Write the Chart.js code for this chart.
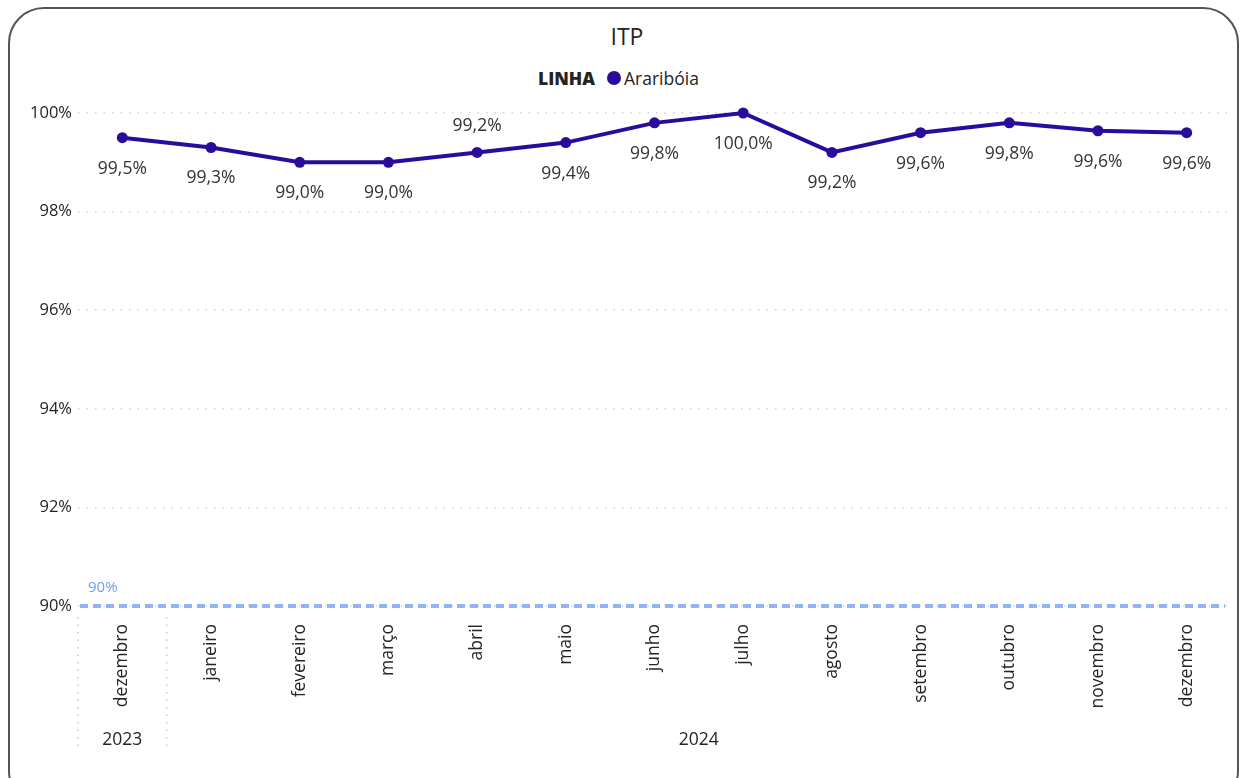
<!DOCTYPE html>
<html lang="pt">
<head>
    <meta charset="UTF-8" />
    <title>ITP</title>
    <script src="https://cdn.jsdelivr.net/npm/chart.js"></script>
    <style>
        body {
            margin: 0;
            width: 1240px;
            height: 778px;
            overflow: hidden;
            background: #fff;
            font-family: 'Segoe UI', 'Open Sans', sans-serif;
            color: #252423;
            position: relative;
        }

        .frame {
            position: absolute;
            left: 8px;
            top: 7px;
            width: 1231px;
            height: 800px;
            border: 2px solid #555;
            border-radius: 36px;
            box-sizing: border-box;
        }

        .titulo {
            position: absolute;
            top: 20px;
            left: 0;
            width: 1254px;
            text-align: center;
            font-size: 23px;
        }

        .legenda {
            position: absolute;
            top: 66px;
            left: 538px;
            font-size: 17.5px;
            display: flex;
            align-items: center;
        }

            .legenda b {
                margin-right: 12px;
                font-weight: 800;
            }

            .legenda i {
                display: inline-block;
                width: 14px;
                height: 14px;
                border-radius: 50%;
                background: #2a0c9c;
                margin-right: 3px;
            }

        canvas {
            position: absolute;
            left: 0;
            top: 0;
        }
    </style>
</head>
<body>
    <div class="frame"></div>
    <div class="titulo">ITP</div>
    <div class="legenda"><b>LINHA</b><i></i><span>Araribóia</span></div>
    <canvas id="grafico" width="1240" height="778"></canvas>

    <script>
        const meses = ['dezembro', 'janeiro', 'fevereiro', 'março', 'abril', 'maio', 'junho',
            'julho', 'agosto', 'setembro', 'outubro', 'novembro', 'dezembro'];
        const anos = ['2023', '2024', '2024', '2024', '2024', '2024', '2024',
            '2024', '2024', '2024', '2024', '2024', '2024'];
        const araribe = [99.5, 99.3, 99.0, 99.0, 99.2, 99.4, 99.8, 100.0, 99.2, 99.6, 99.8, 99.64, 99.6];
        const meta = 90;
        const yTicks = [90, 92, 94, 96, 98, 100];

        const corLinha = '#2a0c9c';
        const fonte = "'Segoe UI', 'Open Sans', sans-serif";

        // rótulos de dados (abril fica acima da linha)
        const rotulos = {
            id: 'rotulos',
            afterDatasetsDraw(chart) {
                const ctx = chart.ctx;
                const meta0 = chart.getDatasetMeta(0);
                ctx.save();
                ctx.font = '17.5px ' + fonte;
                ctx.fillStyle = '#333';
                ctx.textAlign = 'center';
                ctx.textBaseline = 'middle';
                meta0.data.forEach((pt, i) => {
                    const txt = araribe[i].toFixed(1).replace('.', ',') + '%';
                    const dy = i === 4 ? -26 : 31;
                    ctx.fillText(txt, pt.x, pt.y + dy);
                });
                ctx.restore();
            }
        };

        // linha de meta 90%
        const linhaMeta = {
            id: 'linhaMeta',
            afterDatasetsDraw(chart) {
                const ctx = chart.ctx;
                const y = chart.scales.y.getPixelForValue(meta);
                const a = chart.chartArea;
                ctx.save();
                ctx.strokeStyle = '#8fb5f7';
                ctx.lineWidth = 4;
                ctx.setLineDash([8, 5]);
                ctx.beginPath();
                ctx.moveTo(a.left + 2, y);
                ctx.lineTo(a.right - 6, y);
                ctx.stroke();
                ctx.fillStyle = '#6f9ef2';
                ctx.font = '15px ' + fonte;
                ctx.textBaseline = 'middle';
                ctx.fillText(meta + '%', a.left + 10, y - 18);
                ctx.restore();
            }
        };

        // eixo de anos
        const eixoAnos = {
            id: 'eixoAnos',
            afterDraw(chart) {
                const ctx = chart.ctx;
                const x = chart.scales.x;
                const a = chart.chartArea;
                const grupos = [];
                anos.forEach((ano, i) => {
                    const g = grupos[grupos.length - 1];
                    if (g && g.ano === ano) g.fim = i;
                    else grupos.push({ ano: ano, ini: i, fim: i });
                });
                ctx.save();
                ctx.strokeStyle = '#c8c8c8';
                ctx.lineWidth = 1.5;
                ctx.setLineDash([1.5, 6]);
                ctx.font = '17.5px ' + fonte;
                ctx.fillStyle = '#252423';
                ctx.textAlign = 'center';
                ctx.textBaseline = 'middle';
                grupos.forEach((g, k) => {
                    const esq = k === 0 ? a.left : (x.getPixelForValue(g.ini - 1) + x.getPixelForValue(g.ini)) / 2;
                    ctx.beginPath();
                    ctx.moveTo(esq, a.bottom + 11);
                    ctx.lineTo(esq, a.bottom + 146);
                    ctx.stroke();
                    const cx = (x.getPixelForValue(g.ini) + x.getPixelForValue(g.fim)) / 2;
                    ctx.fillText(g.ano, cx, a.bottom + 134);
                });
                ctx.restore();
            }
        };

        new Chart(document.getElementById('grafico'), {
            type: 'line',
            data: {
                labels: meses,
                datasets: [{
                    label: 'Araribóia',
                    data: araribe,
                    borderColor: corLinha,
                    backgroundColor: corLinha,
                    borderWidth: 4,
                    pointRadius: 5.5,
                    pointBorderWidth: 0,
                    pointHoverRadius: 5.5,
                    tension: 0,
                    clip: false
                }]
            },
            options: {
                responsive: false,
                animation: false,
                layout: { padding: { left: 8, top: 113, right: 9, bottom: 0 } },
                plugins: {
                    legend: { display: false },
                    title: { display: false },
                    tooltip: { enabled: false }
                },
                scales: {
                    x: {
                        offset: true,
                        grid: { display: false, offset: true },
                        border: { display: false },
                        ticks: {
                            autoSkip: false,
                            minRotation: 90,
                            maxRotation: 90,
                            padding: 10,
                            color: '#252423',
                            font: { family: fonte, size: 17.5 }
                        },
                        afterFit(s) { s.height = 172; }
                    },
                    y: {
                        min: 90,
                        max: 100,
                        afterBuildTicks(s) { s.ticks = yTicks.map(v => ({ value: v })); },
                        grid: { color: '#d4d4d4', lineWidth: 1.5, drawTicks: false },
                        border: { display: false, dash: [1.5, 7] },
                        ticks: {
                            padding: 6,
                            color: '#252423',
                            font: { family: fonte, size: 16.5 },
                            callback: v => v + '%'
                        },
                        afterFit(s) { s.width = 70; }
                    }
                }
            },
            plugins: [rotulos, linhaMeta, eixoAnos]
        });
    </script>
</body>
</html>
